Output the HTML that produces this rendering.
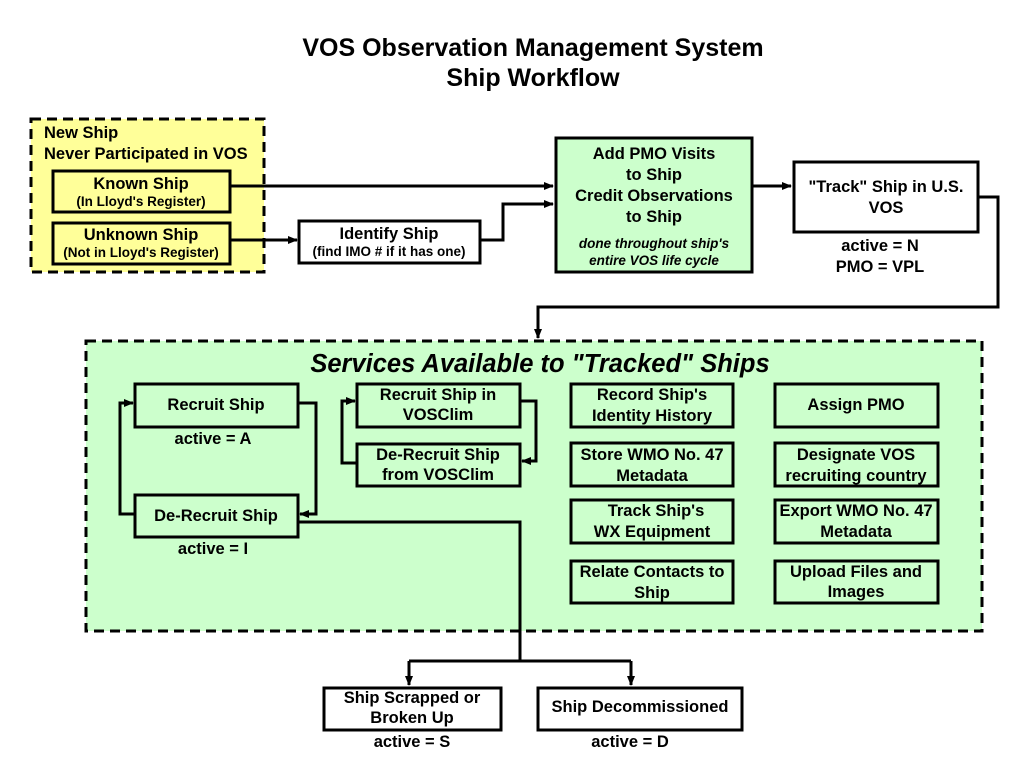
<!DOCTYPE html>
<html><head><meta charset="utf-8"><style>
body{margin:0;background:#fff}
svg text{font-family:"Liberation Sans",Arial,sans-serif;font-weight:bold;fill:#000}
</style></head><body>
<svg width="1024" height="768" viewBox="0 0 1024 768" xmlns="http://www.w3.org/2000/svg">
<defs><marker id="a" markerWidth="10" markerHeight="10" refX="9" refY="5" orient="auto" markerUnits="userSpaceOnUse"><path d="M0,1 L10,5 L0,9 z" fill="#000"/></marker></defs>
<text x="533" y="56" font-size="25" text-anchor="middle">VOS Observation Management System</text>
<text x="533" y="86" font-size="25" text-anchor="middle">Ship Workflow</text>

<rect x="31" y="119" width="233" height="153" fill="#ffff99" stroke="#000" stroke-width="3" stroke-dasharray="10,6"/>
<text x="44" y="138" font-size="16.5">New Ship</text>
<text x="44" y="159" font-size="16.5">Never Participated in VOS</text>
<rect x="53" y="171" width="177" height="41" fill="#ffff99" stroke="#000" stroke-width="3"/>
<text x="141" y="189" font-size="16.5" text-anchor="middle">Known Ship</text>
<text x="141" y="206" font-size="13.5" text-anchor="middle">(In Lloyd's Register)</text>
<rect x="53" y="223" width="177" height="41" fill="#ffff99" stroke="#000" stroke-width="3"/>
<text x="141" y="240" font-size="16.5" text-anchor="middle">Unknown Ship</text>
<text x="141" y="257" font-size="13.5" text-anchor="middle">(Not in Lloyd's Register)</text>

<rect x="299" y="221" width="181" height="42" fill="#fff" stroke="#000" stroke-width="3"/>
<text x="389" y="239" font-size="16.5" text-anchor="middle">Identify Ship</text>
<text x="389" y="256" font-size="13.5" text-anchor="middle">(find IMO # if it has one)</text>

<g stroke="#000" stroke-width="3" fill="none">
<path d="M230,186 H553" marker-end="url(#a)"/>
<path d="M230,240 H297" marker-end="url(#a)"/>
<path d="M480,240 H503 V204 H553" marker-end="url(#a)"/>
<path d="M752,186 H791" marker-end="url(#a)"/>
<path d="M978,197 H998 V307 H538 V338" marker-end="url(#a)"/>
</g>

<rect x="556" y="138" width="196" height="134" fill="#ccffcc" stroke="#000" stroke-width="3"/>
<text x="654" y="159" font-size="16.5" text-anchor="middle">Add PMO Visits</text>
<text x="654" y="180" font-size="16.5" text-anchor="middle">to Ship</text>
<text x="654" y="201" font-size="16.5" text-anchor="middle">Credit Observations</text>
<text x="654" y="222" font-size="16.5" text-anchor="middle">to Ship</text>
<text x="654" y="248" font-size="13.5" font-style="italic" text-anchor="middle">done throughout ship's</text>
<text x="654" y="265" font-size="13.5" font-style="italic" text-anchor="middle">entire VOS life cycle</text>

<rect x="794" y="162" width="184" height="70" fill="#fff" stroke="#000" stroke-width="3"/>
<text x="886" y="192" font-size="16.5" text-anchor="middle">"Track" Ship in U.S.</text>
<text x="886" y="213" font-size="16.5" text-anchor="middle">VOS</text>
<text x="880" y="251" font-size="16.5" text-anchor="middle">active = N</text>
<text x="880" y="272" font-size="16.5" text-anchor="middle">PMO = VPL</text>

<rect x="86" y="341" width="896" height="290" fill="#ccffcc" stroke="#000" stroke-width="3" stroke-dasharray="10,6"/>
<text x="540" y="372" font-size="25.5" font-style="italic" text-anchor="middle">Services Available to "Tracked" Ships</text>

<g stroke="#000" stroke-width="3" fill="#ccffcc">
<rect x="135" y="384" width="163" height="43"/>
<rect x="135" y="495" width="163" height="42"/>
<rect x="357" y="384" width="163" height="43"/>
<rect x="357" y="444" width="163" height="42"/>
<rect x="571" y="384" width="162" height="43"/>
<rect x="571" y="443" width="162" height="43"/>
<rect x="571" y="500" width="162" height="43"/>
<rect x="571" y="561" width="162" height="42"/>
<rect x="775" y="384" width="163" height="43"/>
<rect x="775" y="443" width="163" height="43"/>
<rect x="775" y="500" width="163" height="43"/>
<rect x="775" y="561" width="163" height="42"/>
</g>
<g stroke="#000" stroke-width="3" fill="none">
<path d="M135,514 H120 V403 H133" marker-end="url(#a)"/>
<path d="M298,403 H316 V514 H300" marker-end="url(#a)"/>
<path d="M357,463 H342 V401 H355" marker-end="url(#a)"/>
<path d="M520,401 H536 V461 H522" marker-end="url(#a)"/>
<path d="M298,522 H520 V661"/>
<path d="M409,661 H631"/>
<path d="M409,661 V685" marker-end="url(#a)"/>
<path d="M631,661 V685" marker-end="url(#a)"/>
</g>
<g font-size="16.5" text-anchor="middle">
<text x="216" y="410">Recruit Ship</text>
<text x="213" y="444">active = A</text>
<text x="216" y="521">De-Recruit Ship</text>
<text x="213" y="554">active = I</text>
<text x="438" y="400">Recruit Ship in</text>
<text x="438" y="420">VOSClim</text>
<text x="438" y="460">De-Recruit Ship</text>
<text x="438" y="480">from VOSClim</text>
<text x="652" y="400">Record Ship's</text>
<text x="652" y="421">Identity History</text>
<text x="652" y="460">Store WMO No. 47</text>
<text x="652" y="481">Metadata</text>
<text x="656" y="516">Track Ship's</text>
<text x="652" y="537">WX Equipment</text>
<text x="652" y="577">Relate Contacts to</text>
<text x="652" y="598">Ship</text>
<text x="856" y="410">Assign PMO</text>
<text x="856" y="460">Designate VOS</text>
<text x="856" y="481">recruiting country</text>
<text x="856" y="516">Export WMO No. 47</text>
<text x="856" y="537">Metadata</text>
<text x="856" y="577">Upload Files and</text>
<text x="856" y="597">Images</text>
</g>

<rect x="324" y="688" width="177" height="42" fill="#fff" stroke="#000" stroke-width="3"/>
<rect x="538" y="688" width="204" height="42" fill="#fff" stroke="#000" stroke-width="3"/>
<g font-size="16.5" text-anchor="middle">
<text x="412" y="703">Ship Scrapped or</text>
<text x="412" y="723">Broken Up</text>
<text x="640" y="712">Ship Decommissioned</text>
<text x="412" y="747">active = S</text>
<text x="630" y="747">active = D</text>
</g>
</svg>
</body></html>
